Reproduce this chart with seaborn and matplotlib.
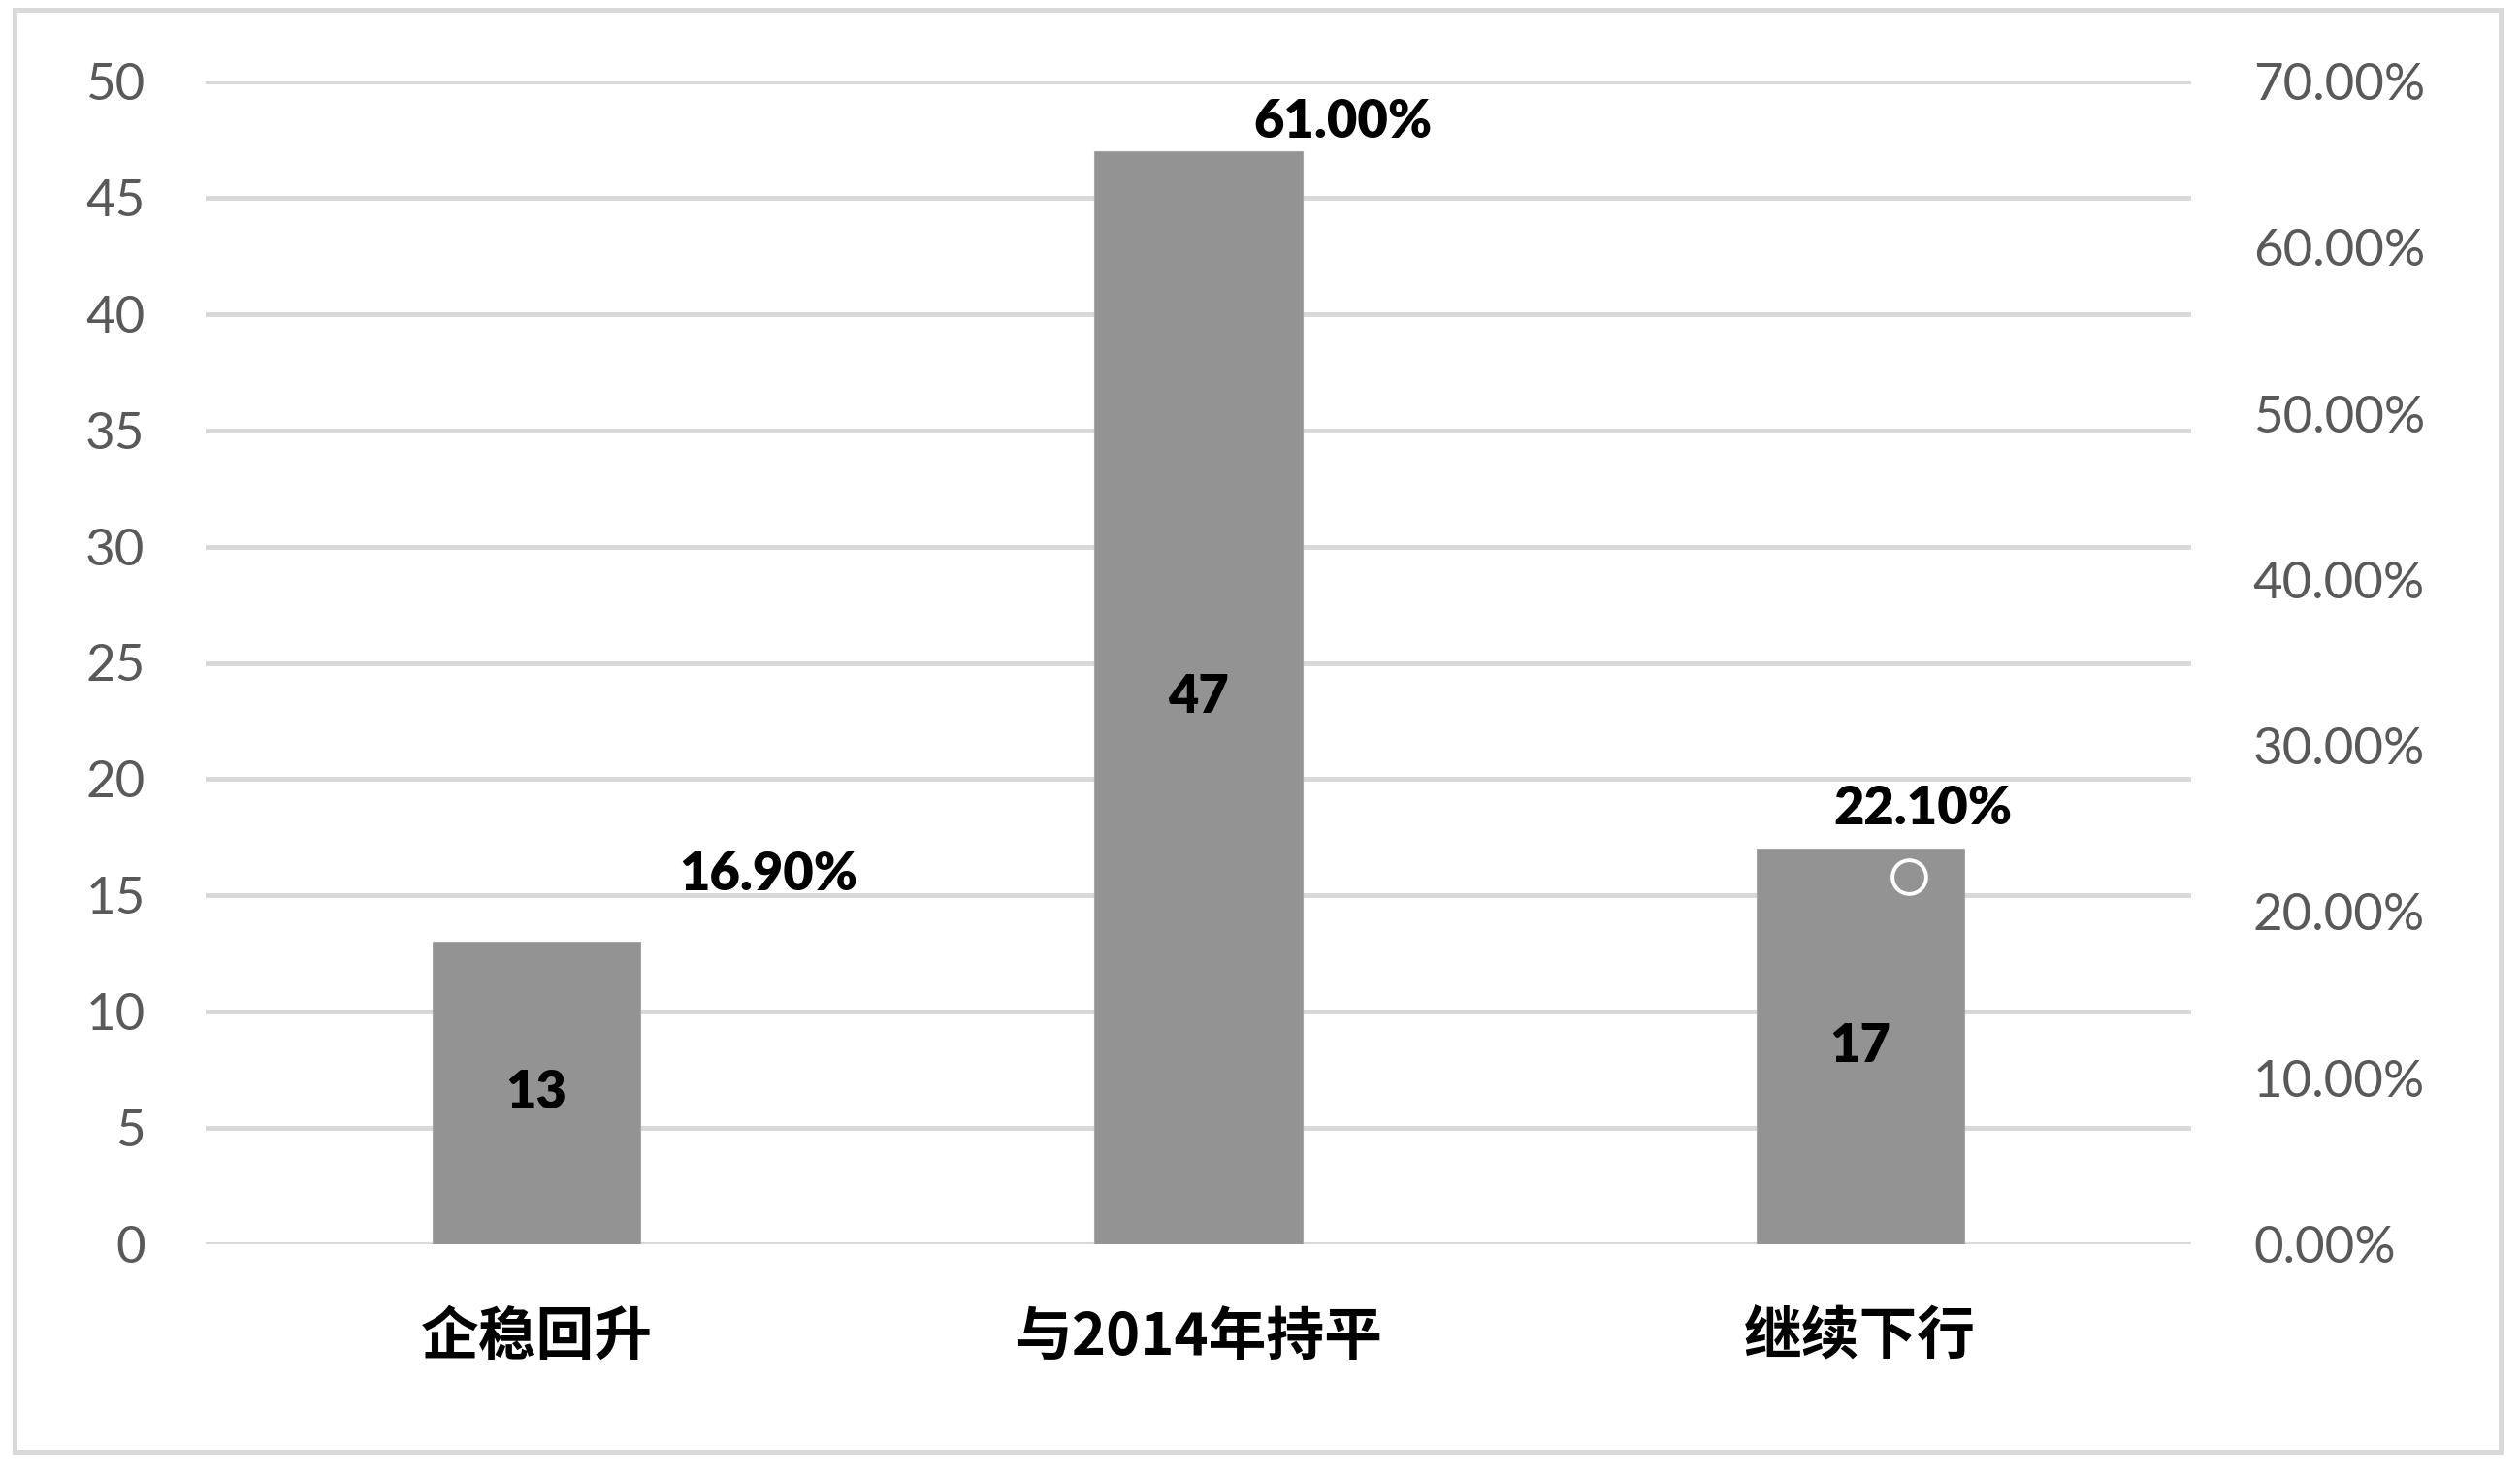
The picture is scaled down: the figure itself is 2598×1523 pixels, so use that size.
import numpy as np
import pandas as pd
import seaborn as sns
import matplotlib.pyplot as plt
from matplotlib.patches import Rectangle
from matplotlib.ticker import FuncFormatter, MultipleLocator

# data
categories = ['企稳回升', '与2014年持平', '继续下行']
counts = [13, 47, 17]
shares = [0.169, 0.61, 0.221]
share_labels = ['16.90%', '61.00%', '22.10%']

# where the share markers sit along the x axis (secondary series is offset)
share_pos = [0.35, 1.218, 2.073]
# manual label offsets (points) as in the original
label_offsets = [(0, 66), (0, 81), (11, 51)]

sns.set_theme(style='white')
plt.rcParams['font.family'] = ['Lato', 'Noto Sans CJK SC', 'DejaVu Sans']

df = pd.DataFrame({'cat': categories, 'n': counts})

fig = plt.figure(figsize=(25.98, 15.23), dpi=100)
fig.patch.set_facecolor('white')
fig.patches.append(Rectangle((15 / 2598, 1 - 1497 / 1523), 2563 / 2598, 1487 / 1523,
                             transform=fig.transFigure, fill=False,
                             edgecolor='#d9d9d9', linewidth=3.6, zorder=0))

ax = fig.add_axes([212 / 2598, 240 / 1523, 2047 / 2598, 1199 / 1523])
sns.barplot(data=df, x='cat', y='n', ax=ax, color='#939393', saturation=1,
            width=0.314, edgecolor='#a6a6a6', linewidth=0.8, zorder=3)
ax.set_xlim(-0.5, 2.5)
ax.set_ylim(0, 50)
ax.yaxis.set_major_locator(MultipleLocator(5))
ax.grid(axis='y', color='#d9d9d9', linewidth=3.6, zorder=0)
ax.set_axisbelow(True)
for s in ax.spines.values():
    s.set_visible(False)
ax.set_xlabel('')
ax.set_ylabel('')
ax.tick_params(axis='y', length=0, pad=45, labelsize=38, labelcolor='#595959')
ax.tick_params(axis='x', length=0, pad=48)
for t in ax.get_xticklabels():
    t.set_family(['Noto Sans CJK SC', 'DejaVu Sans'])
    t.set_fontsize(43)
    t.set_style('italic')
    t.set_fontweight('bold')
    t.set_color('black')

for c in ax.containers:
    ax.bar_label(c, label_type='center', fontsize=39, fontweight='heavy', color='black')

ax2 = ax.twinx()
ax2.set_ylim(0, 0.7)
ax2.yaxis.set_major_locator(MultipleLocator(0.1))
ax2.yaxis.set_major_formatter(FuncFormatter(lambda v, p: f'{v * 100:.2f}%'))
ax2.tick_params(axis='y', length=0, pad=46, labelsize=38, labelcolor='#595959')
for s in ax2.spines.values():
    s.set_visible(False)
ax2.grid(False)
ax2.plot(share_pos, shares, linestyle='none', marker='o', markersize=25,
         markerfacecolor='none', markeredgecolor='white', markeredgewidth=2.8, zorder=5)
for x, y, lab, off in zip(share_pos, shares, share_labels, label_offsets):
    ax2.annotate(lab, (x, y), xytext=off, textcoords='offset points',
                 ha='center', va='center', fontsize=39, fontweight='heavy', color='black')

fig.savefig('out.png', dpi=100, facecolor='white')
